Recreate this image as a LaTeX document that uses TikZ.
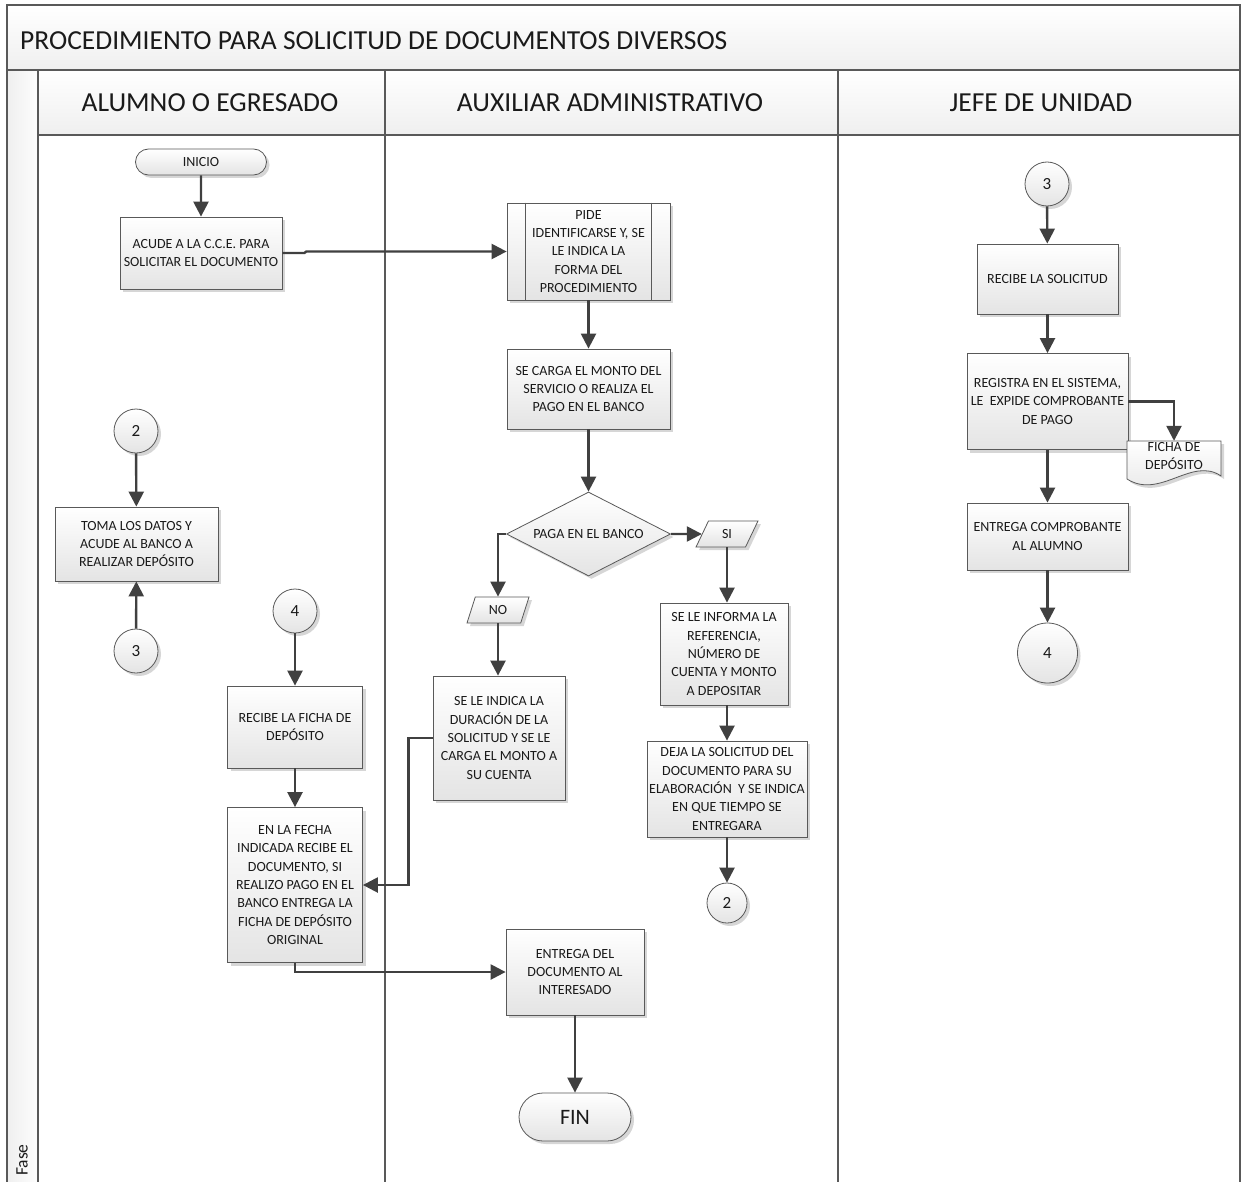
\documentclass[tikz,border=0pt]{standalone}
\usepackage{fontspec}
\setmainfont{Carlito}
\usetikzlibrary{shapes.geometric,shapes.misc,shadows,arrows.meta}
\definecolor{frm}{HTML}{595959}
\definecolor{arr}{HTML}{404040}
\definecolor{txt}{HTML}{1A1A1A}
\definecolor{boxbot}{HTML}{E4E4E4}
\definecolor{hdrbot}{HTML}{EFEFEF}
\newcommand\bxfont{\fontsize{14}{18.4}\selectfont}
\tikzset{
  shd/.style={drop shadow={shadow xshift=3pt,shadow yshift=-3pt,fill=black!45,opacity=0.35}},
  proc/.style={rectangle,draw=frm,line width=0.8pt,top color=white,bottom color=boxbot,
     inner sep=0pt,align=center,font=\bxfont,text=txt,shd},
  term/.style={rounded rectangle,draw=frm,line width=0.8pt,top color=white,bottom color=boxbot,
     inner sep=0pt,align=center,font=\bxfont,text=txt,shd},
  conn/.style={circle,draw=frm,line width=0.8pt,top color=white,bottom color=boxbot,
     inner sep=0pt,minimum size=44,font=\fontsize{17}{17}\selectfont,text=txt,shd},
  dec/.style={diamond,draw=frm,line width=0.8pt,top color=white,bottom color=boxbot,
     inner sep=0pt,shd},
  io/.style={trapezium,trapezium left angle=70,trapezium right angle=110,trapezium stretches=true,
     draw=frm,line width=0.8pt,top color=white,bottom color=boxbot,inner sep=0pt,
     minimum width=62,minimum height=26,font=\bxfont,text=txt,shd},
  flow/.style={draw=arr,line width=2.4pt,line join=miter,-{Triangle[width=15pt,length=15pt]}},
  frame/.style={draw=frm,line width=1.6pt},
  lbl/.style={font=\bxfont,text=txt,align=center,inner sep=0pt},
  hdr/.style={font=\fontsize{27.5}{28}\selectfont,text=txt,inner sep=0pt}
}
\begin{document}
\begin{tikzpicture}[x=1pt,y=-1pt]
\useasboundingbox (0,0) rectangle (1241,1182);
\fill[white] (0,0) rectangle (1241,1182);
% ---------- frame ----------
\path[top color=white,bottom color=hdrbot] (7,5) rectangle (1240,70);
\path[left color=hdrbot,right color=white!90!hdrbot] (7,70) rectangle (38,1182);
\path[top color=white,bottom color=hdrbot] (38,70) rectangle (1240,135);
\draw[frame] (7,1182) -- (7,5) -- (1240,5) -- (1240,1182);
\draw[frame] (7,70) -- (1240,70);
\draw[frame] (38,135) -- (1240,135);
\draw[frame] (38,70) -- (38,1182);
\draw[frame] (385,70) -- (385,1182);
\draw[frame] (838,70) -- (838,1182);
\node[hdr,anchor=west] (title) at (20,41) {PROCEDIMIENTO PARA SOLICITUD DE DOCUMENTOS DIVERSOS};
\node[hdr] (h1) at (210,103) {ALUMNO O EGRESADO};
\node[hdr] (h2) at (610,103) {AUXILIAR ADMINISTRATIVO};
\node[hdr] (h3) at (1041,103) {JEFE DE UNIDAD};
\node[rotate=90,anchor=west,font=\fontsize{17.5}{17.5}\selectfont,text=txt,inner sep=0pt] (fase) at (22,1176) {Fase};
% ---------- lane 1 ----------
\node[term,minimum width=131,minimum height=26] (inicio) at (201,162) {INICIO};
\node[proc,minimum width=162,minimum height=72] (acude) at (201,253) {ACUDE A LA C.C.E. PARA\\SOLICITAR EL DOCUMENTO};
\node[conn] (c2a) at (136,431) {2};
\node[proc,minimum width=163,minimum height=74] (toma) at (136.5,544) {TOMA LOS DATOS Y\\ACUDE AL BANCO A\\REALIZAR DEPÓSITO};
\node[conn] (c3a) at (136,651) {3};
\node[conn] (c4a) at (295,611) {4};
\node[proc,minimum width=135,minimum height=82] (ficharec) at (295,727) {RECIBE LA FICHA DE\\DEPÓSITO};
\node[proc,minimum width=135,minimum height=155] (fecha) at (295,885) {EN LA FECHA\\INDICADA RECIBE EL\\DOCUMENTO, SI\\REALIZO PAGO EN EL\\BANCO ENTREGA LA\\FICHA DE DEPÓSITO\\ORIGINAL};
% ---------- lane 2 ----------
\node[proc,minimum width=163,minimum height=97] (pide) at (588.5,251.5) {PIDE\\IDENTIFICARSE Y, SE\\LE INDICA LA\\FORMA DEL\\PROCEDIMIENTO};
\draw[draw=frm,line width=0.8pt] ([xshift=19pt]pide.north west) -- ([xshift=19pt]pide.south west);
\draw[draw=frm,line width=0.8pt] ([xshift=-19pt]pide.north east) -- ([xshift=-19pt]pide.south east);
\node[proc,minimum width=163,minimum height=80] (carga) at (588.5,389) {SE CARGA EL MONTO DEL\\SERVICIO O REALIZA EL\\PAGO EN EL BANCO};
\node[dec,minimum width=164,minimum height=84] (paga) at (588.5,534) {};
\node[lbl] (pagatxt) at (588.5,534) {PAGA EN EL BANCO};
\node[io] (si) at (727,534) {SI};
\node[io] (no) at (498,610) {NO};
\node[proc,minimum width=132,minimum height=124] (indica) at (499,738) {SE LE INDICA LA\\DURACIÓN DE LA\\SOLICITUD Y SE LE\\CARGA EL MONTO A\\SU CUENTA};
\node[proc,minimum width=128,minimum height=102] (informa) at (724,654) {SE LE INFORMA LA\\REFERENCIA,\\NÚMERO DE\\CUENTA Y MONTO\\A DEPOSITAR};
\node[proc,minimum width=160,minimum height=96] (deja) at (727,789) {DEJA LA SOLICITUD DEL\\DOCUMENTO PARA SU\\ELABORACIÓN\ \ Y SE INDICA\\EN QUE TIEMPO SE\\ENTREGARA};
\node[conn,minimum size=40] (c2b) at (727,903) {2};
\node[proc,minimum width=138,minimum height=86] (entrega) at (575,972) {ENTREGA DEL\\DOCUMENTO AL\\INTERESADO};
\node[term,minimum width=112,minimum height=48,font=\fontsize{22}{22}\selectfont] (fin) at (575,1117) {FIN};
% ---------- lane 3 ----------
\node[conn] (c3b) at (1047,184) {3};
\node[proc,minimum width=141,minimum height=70] (recibe) at (1047.5,279) {RECIBE LA SOLICITUD};
\node[proc,minimum width=161,minimum height=96] (registra) at (1047.5,401.5) {REGISTRA EN EL SISTEMA,\\LE\ \ EXPIDE COMPROBANTE\\DE PAGO};
\node[proc,minimum width=161,minimum height=67] (comprob) at (1047.5,536.5) {ENTREGA COMPROBANTE\\AL ALUMNO};
\node[conn,minimum size=60] (c4b) at (1047.5,653) {4};
% document shape
\node[inner sep=0pt,minimum width=94,minimum height=36] (ficha) at (1174,459) {};
\path[draw=frm,line width=0.8pt,top color=white,bottom color=boxbot,shd]
  (1127,441) -- (1221,441) -- (1221,476) .. controls (1192,456) and (1160,500) .. (1127,479) -- cycle;
\node[lbl] (fichatxt) at (1174,456) {FICHA DE\\DEPÓSITO};
% ---------- connectors ----------
\draw[flow] (inicio) -- (acude);
\draw[flow] (acude.east) -- ++(22,0) -- ++(2,-1.5) -- (pide.west);
\draw[flow] (pide) -- (carga);
\draw[flow] (carga) -- (paga);
\draw[flow] (paga.east) -- (si.west);
\draw[flow] (paga.west) -| (no.north);
\draw[flow] (no.south) -- (no.south |- indica.north);
\draw[flow] (si.south) -- (si.south |- informa.north);
\draw[flow] (informa.south -| deja.north) -- (deja.north);
\draw[flow] (deja) -- (c2b);
\draw[flow] (indica.west) -- ++(-24,0) |- (fecha.east);
\draw[flow] (fecha.south) |- (entrega.west);
\draw[flow] (entrega) -- (fin);
\draw[flow] (c2a) -- (toma);
\draw[flow] (c3a) -- (toma);
\draw[flow] (c4a) -- (ficharec);
\draw[flow] (ficharec) -- (fecha);
\draw[flow] (c3b) -- (recibe);
\draw[flow] (recibe) -- (registra);
\draw[flow] (registra.east) -| (ficha.north);
\draw[flow] (registra) -- (comprob);
\draw[flow] (comprob) -- (c4b);
\end{tikzpicture}
\end{document}
